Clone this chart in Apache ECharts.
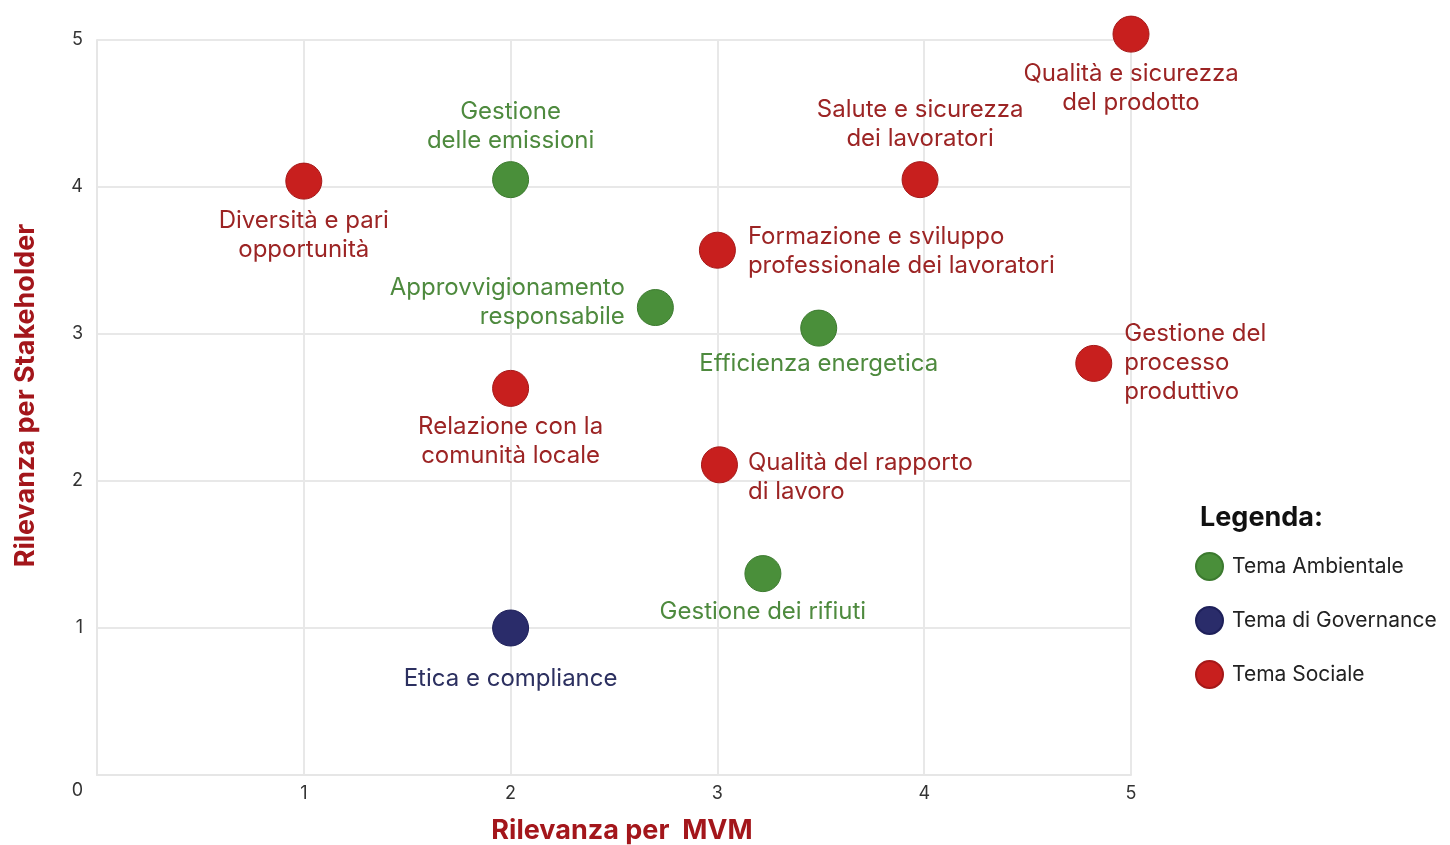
<!DOCTYPE html>
<html>
<head>
<meta charset="utf-8">
<script src="https://cdn.jsdelivr.net/npm/echarts@6/dist/echarts.min.js"></script>
<style>
  html, body { margin: 0; padding: 0; background: #fff; }
  #chart { width: 1450px; height: 845px; }
</style>
</head>
<body>
<div id="chart"></div>
<script>
// dati della matrice di materialità
const ambNames = ["Gestione\ndelle emissioni", "Approvvigionamento\nresponsabile", "Efficienza energetica", "Gestione dei rifiuti"];
const ambX = [2, 2.7, 3.49, 3.22];
const ambY = [4.05, 3.18, 3.04, 1.37];

const govNames = ["Etica e compliance"];
const govX = [2];
const govY = [1];

const socNames = ["Qualità e sicurezza\ndel prodotto", "Salute e sicurezza\ndei lavoratori", "Diversità e pari\nopportunità",
  "Formazione e sviluppo\nprofessionale dei lavoratori", "Gestione del\nprocesso\nproduttivo", "Relazione con la\ncomunità locale",
  "Qualità del rapporto\ndi lavoro"];
const socX = [5, 3.98, 1, 3, 4.82, 2, 3.01];
const socY = [5.04, 4.05, 4.04, 3.57, 2.8, 2.63, 2.11];

const axisTicks = [0, 1, 2, 3, 4, 5];

// posizione delle etichette per ogni tema
const labelPos = {
  "Gestione\ndelle emissioni": { position: "top", distance: 6, align: "center" },
  "Approvvigionamento\nresponsabile": { position: "left", distance: 12, align: "right", offset: [0, -5] },
  "Efficienza energetica": { position: "bottom", distance: 3, align: "center" },
  "Gestione dei rifiuti": { position: "bottom", distance: 5, align: "center" },
  "Etica e compliance": { position: "bottom", distance: 18, align: "center" },
  "Qualità e sicurezza\ndel prodotto": { position: "bottom", distance: 7, align: "center" },
  "Salute e sicurezza\ndei lavoratori": { position: "top", distance: 8, align: "center" },
  "Diversità e pari\nopportunità": { position: "bottom", distance: 7, align: "center" },
  "Formazione e sviluppo\nprofessionale dei lavoratori": { position: "right", distance: 12, align: "left", offset: [0, 1] },
  "Gestione del\nprocesso\nproduttivo": { position: "right", distance: 12, align: "left", offset: [0, -1] },
  "Relazione con la\ncomunità locale": { position: "bottom", distance: 5, align: "center" },
  "Qualità del rapporto\ndi lavoro": { position: "right", distance: 10, align: "left", offset: [0, 12] }
};

const colors = {
  amb: { fill: "#4a8f3a", border: "#3c7a2f", text: "#4e8a3e" },
  gov: { fill: "#2a2c6a", border: "#1e205a", text: "#2c3060" },
  soc: { fill: "#c81f1e", border: "#a51818", text: "#9c2424" }
};

function buildData(names, xs, ys) {
  return names.map((n, i) => ({
    name: n,
    value: [xs[i], ys[i]],
    label: Object.assign({ show: true }, labelPos[n])
  }));
}

function makeSeries(name, names, xs, ys, c) {
  return {
    name: name,
    type: "scatter",
    clip: false,
    symbolSize: 36,
    itemStyle: { color: c.fill, borderColor: c.border, borderWidth: 1, opacity: 1 },
    label: {
      show: true,
      formatter: "{b}",
      color: c.text,
      fontSize: 24,
      lineHeight: 29,
      fontFamily: "Inter"
    },
    emphasis: { disabled: true },
    data: buildData(names, xs, ys)
  };
}

const chart = echarts.init(document.getElementById("chart"));
const valueAxisBase = {
  type: "value",
  min: axisTicks[0],
  max: axisTicks[axisTicks.length - 1],
  interval: 1,
  axisLine: { show: true, lineStyle: { color: "#e6e6e6", width: 2 } },
  axisTick: { show: false },
  splitLine: { show: true, lineStyle: { color: "#e8e8e8", width: 2 } },
  axisLabel: { color: "#333", fontSize: 18, fontFamily: "Inter" },
  nameLocation: "middle",
  nameTextStyle: { color: "#a3161b", fontSize: 27, fontWeight: "bold", fontFamily: "Inter" }
};

chart.setOption({
  animation: false,
  textStyle: { fontFamily: "Inter" },
  title: {
    text: "Legenda:",
    left: 1195,
    top: 499,
    textStyle: { color: "#111", fontSize: 27, fontWeight: "bold", fontFamily: "Inter" }
  },
  legend: {
    orient: "vertical",
    left: 1195,
    top: 552,
    padding: 0,
    icon: "circle",
    itemWidth: 27,
    itemHeight: 27,
    itemGap: 25,
    textStyle: { color: "#222", fontSize: 21, fontFamily: "Inter", padding: [0, 0, 0, 4] },
    data: ["Tema Ambientale", "Tema di Governance", "Tema Sociale"]
  },
  grid: { left: 97, right: 319, top: 40, bottom: 70, containLabel: false, outerBoundsMode: "none" },
  xAxis: Object.assign({}, valueAxisBase, {
    name: "Rilevanza per  MVM",
    nameGap: 42,
    nameTextStyle: Object.assign({}, valueAxisBase.nameTextStyle, { padding: [0, 0, 0, 16] }),
    axisLabel: Object.assign({}, valueAxisBase.axisLabel, {
      margin: 10,
      formatter: v => (v === 0 ? "" : String(v))
    })
  }),
  yAxis: Object.assign({}, valueAxisBase, {
    name: "Rilevanza per Stakeholder",
    nameGap: 58,
    nameTextStyle: Object.assign({}, valueAxisBase.nameTextStyle, { padding: [0, 0, 0, 24] }),
    axisLabel: Object.assign({}, valueAxisBase.axisLabel, {
      margin: 14,
      formatter: v => (v === 0 ? "{low|0}" : String(v)),
      rich: { low: { color: "#333", fontSize: 18, fontFamily: "Inter", padding: [32, 0, 0, 0] } }
    })
  }),
  series: [
    makeSeries("Tema Ambientale", ambNames, ambX, ambY, colors.amb),
    makeSeries("Tema di Governance", govNames, govX, govY, colors.gov),
    makeSeries("Tema Sociale", socNames, socX, socY, colors.soc)
  ]
});
</script>
</body>
</html>
